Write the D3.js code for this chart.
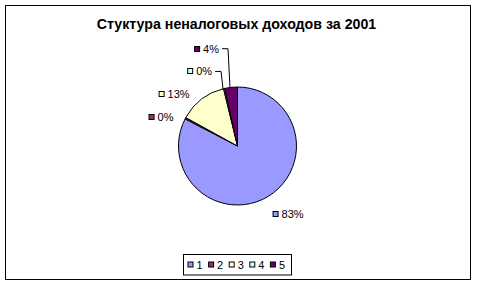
<!DOCTYPE html>
<html>
<head>
<meta charset="utf-8">
<script src="https://cdn.jsdelivr.net/npm/d3@7"></script>
<style>
  body { margin: 0; background: #fff; }
  text { font-family: Arial, "Liberation Sans", sans-serif; }
</style>
</head>
<body>
<div id="container"></div>
<script>
/* CONSTANTS AND GLOBALS */
const width = 477,
  height = 285;

const title = "Стуктура неналоговых доходов за 2001";
const categories = ["1", "2", "3", "4", "5"];
const values = [82.6, 0.4, 13.2, 0.3, 3.5];
const labels = ["83%", "0%", "13%", "0%", "4%"];
const colors = ["#9999FF", "#993366", "#FFFFCC", "#CCFFFF", "#660066"];

const cx = 237.5, cy = 146, radius = 59;

const data = categories.map((c, i) => ({ cat: c, value: values[i], label: labels[i], color: colors[i] }));

/* CREATE SVG ELEMENT */
const svg = d3.select("#container").append("svg")
  .attr("width", width)
  .attr("height", height)
  .style("display", "block");

// chart frame
svg.append("rect")
  .attr("x", 5.5).attr("y", 5.5)
  .attr("width", 465).attr("height", 274)
  .attr("fill", "white")
  .attr("stroke", "black")
  .attr("stroke-width", 1);

svg.append("text")
  .attr("x", 236.5).attr("y", 28.5)
  .attr("text-anchor", "middle")
  .attr("font-weight", "bold")
  .attr("font-size", 14.2)
  .text(title);

/* PIE */
const pie = d3.pie().sort(null).value(d => d.value);
const arcs = pie(data);
const arc = d3.arc().innerRadius(0).outerRadius(radius);

const g = svg.append("g").attr("transform", `translate(${cx},${cy})`);

g.selectAll("path")
  .data(arcs)
  .join("path")
  .attr("d", arc)
  .attr("fill", d => d.data.color)
  .attr("stroke", "black")
  .attr("stroke-width", 1)
  .attr("stroke-linejoin", "round");

/* LABELS - left side stacked upward, right side outside */
const mid = d => (d.startAngle + d.endAngle) / 2;
const lab = arcs.map(d => {
  const a = mid(d);
  return {
    d: d,
    side: Math.sin(a) < 0 ? "left" : "right",
    ax: cx + Math.sin(a) * radius,
    ay: cy - Math.cos(a) * radius
  };
});

// left labels: bottom to top, keep a minimum gap
const gap = 22.7;
let prevY = null;
lab.filter(l => l.side === "left").sort((a, b) => b.ay - a.ay).forEach(l => {
  let y = cy - Math.cos(mid(l.d)) * (radius + 3);
  if (prevY !== null) y = Math.min(y, prevY - gap);
  l.y = y;
  l.right = l.ax - 12;
  prevY = y;
});
lab.filter(l => l.side === "right").forEach(l => {
  const a = mid(l.d);
  l.x = cx + Math.sin(a) * (radius + 20) - 6;
  l.y = cy - Math.cos(a) * (radius + 20) + 1;
});

const fs = 11;
lab.forEach(l => {
  const grp = svg.append("g");
  const t = grp.append("text")
    .attr("font-size", fs)
    .attr("dominant-baseline", "central")
    .attr("fill", "black")
    .text(l.d.data.label);
  const tw = t.node().getComputedTextLength();
  let left = l.side === "left" ? l.right - tw - 9 : l.x;
  grp.append("rect")
    .attr("x", left + 0.5).attr("y", Math.round(l.y) - 2.5)
    .attr("width", 5).attr("height", 5)
    .attr("fill", l.d.data.color)
    .attr("stroke", "black");
  t.attr("x", left + 9).attr("y", l.y);

  // leader line
  if (l.side === "left") {
    const x0 = left + 9 + tw + 3;
    const dist = Math.hypot(l.ax - x0, l.ay - l.y);
    if (dist > 14) {
      const pts = [[x0, l.y]];
      if (l.ax - 3 > x0 + 3) pts.push([l.ax - 3, l.y]);
      pts.push([l.ax - 1, l.ay + 1]);
      svg.append("path")
        .attr("d", d3.line()(pts))
        .attr("fill", "none")
        .attr("stroke", "black")
        .attr("stroke-width", 1);
    }
  }
});

/* LEGEND */
const legendX = 183.5, legendY = 254.5, itemW = 20.6;
svg.append("rect")
  .attr("x", legendX).attr("y", legendY)
  .attr("width", 108).attr("height", 20.5)
  .attr("fill", "white")
  .attr("stroke", "black");

const items = svg.selectAll("g.legend")
  .data(data)
  .join("g")
  .attr("class", "legend")
  .attr("transform", (d, i) => `translate(${legendX + 4 + i * itemW},${legendY + 10})`);

items.append("rect")
  .attr("x", 0.5).attr("y", -2.5)
  .attr("width", 5).attr("height", 5)
  .attr("fill", d => d.color)
  .attr("stroke", "black");

items.append("text")
  .attr("x", 9).attr("y", 0)
  .attr("dominant-baseline", "central")
  .attr("font-size", fs)
  .text(d => d.cat);
</script>
</body>
</html>
